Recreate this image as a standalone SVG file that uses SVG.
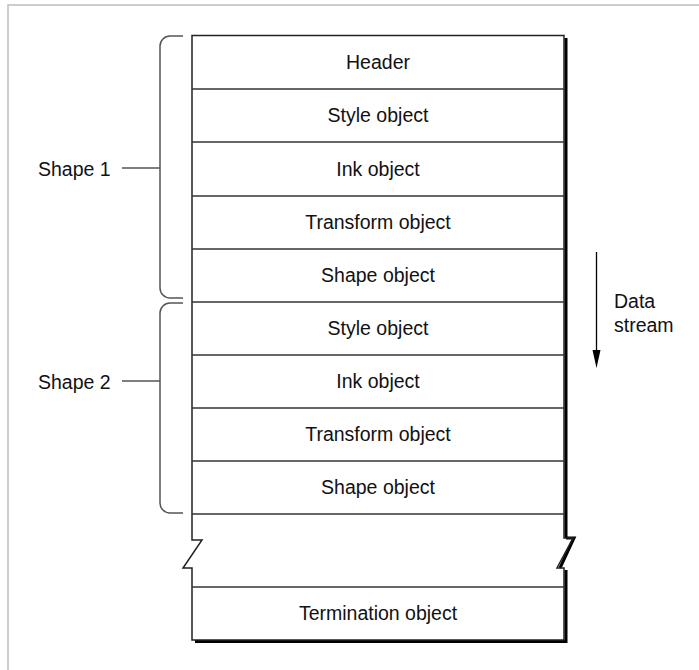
<svg xmlns="http://www.w3.org/2000/svg" width="699" height="670" viewBox="0 0 699 670">
<style>
text{font-family:"Liberation Sans",Arial,sans-serif;font-size:19.5px;fill:#111}
.c{text-anchor:middle}
.sep{stroke:#333;stroke-width:1.5;fill:none}
.out{stroke:#222;stroke-width:1.5;fill:none}
.sh{stroke:#000;stroke-width:3;fill:none}
.br{stroke:#555;stroke-width:1.5;fill:none}
</style>
<rect width="699" height="670" fill="#fff"/>
<g id="frame">
<path d="M8,670 V5 H699" stroke="#bdbdbd" stroke-width="1.5" fill="none"/>
</g>
<g id="stack">
<rect x="192" y="35.5" width="372" height="478" fill="#fff"/>
<path class="sh" d="M566,38 V538 M566,538 L574,538 L560,568 M566,570 V641.5 H195"/>
<path class="out" d="M564,35.5 H192 V540 H202 L183,568 H192 V640 H564 V568 H557 L573,538 H564 Z"/>
</g>
<g id="header"><line class="sep" x1="192" y1="89" x2="564" y2="89"/><text class="c" x="378" y="69">Header</text></g>
<g id="style1"><line class="sep" x1="192" y1="142" x2="564" y2="142"/><text class="c" x="378" y="122">Style object</text></g>
<g id="ink1"><line class="sep" x1="192" y1="196" x2="564" y2="196"/><text class="c" x="378" y="176">Ink object</text></g>
<g id="transform1"><line class="sep" x1="192" y1="249" x2="564" y2="249"/><text class="c" x="378" y="229">Transform object</text></g>
<g id="shape1obj"><line class="sep" x1="192" y1="302" x2="564" y2="302"/><text class="c" x="378" y="282">Shape object</text></g>
<g id="style2"><line class="sep" x1="192" y1="355" x2="564" y2="355"/><text class="c" x="378" y="335">Style object</text></g>
<g id="ink2"><line class="sep" x1="192" y1="408" x2="564" y2="408"/><text class="c" x="378" y="388">Ink object</text></g>
<g id="transform2"><line class="sep" x1="192" y1="461" x2="564" y2="461"/><text class="c" x="378" y="441">Transform object</text></g>
<g id="shape2obj"><line class="sep" x1="192" y1="514" x2="564" y2="514"/><text class="c" x="378" y="494">Shape object</text></g>
<g id="termination"><line class="sep" x1="192" y1="587" x2="564" y2="587"/><text class="c" x="378" y="620">Termination object</text></g>
<g id="shape1label"><text x="38" y="176">Shape 1</text></g>
<g id="shape2label"><text x="38" y="389">Shape 2</text></g>
<g id="datastream"><text x="614" y="308">Data</text><text x="614" y="332">stream</text></g>
<g id="connectors">
<path class="br" d="M183,36 H170 A10,10 0 0 0 160,46 V288 A10,10 0 0 0 170,298 H183"/>
<path class="br" d="M183,303 H170 A10,10 0 0 0 160,313 V503 A10,10 0 0 0 170,513 H183"/>
<line class="br" x1="122" y1="168" x2="160" y2="168"/>
<line class="br" x1="122" y1="381" x2="160" y2="381"/>
<line x1="596.5" y1="252" x2="596.5" y2="352" stroke="#000" stroke-width="1.3"/>
<polygon points="592.5,350 600.5,350 596.5,368" fill="#000"/>
</g>
</svg>
